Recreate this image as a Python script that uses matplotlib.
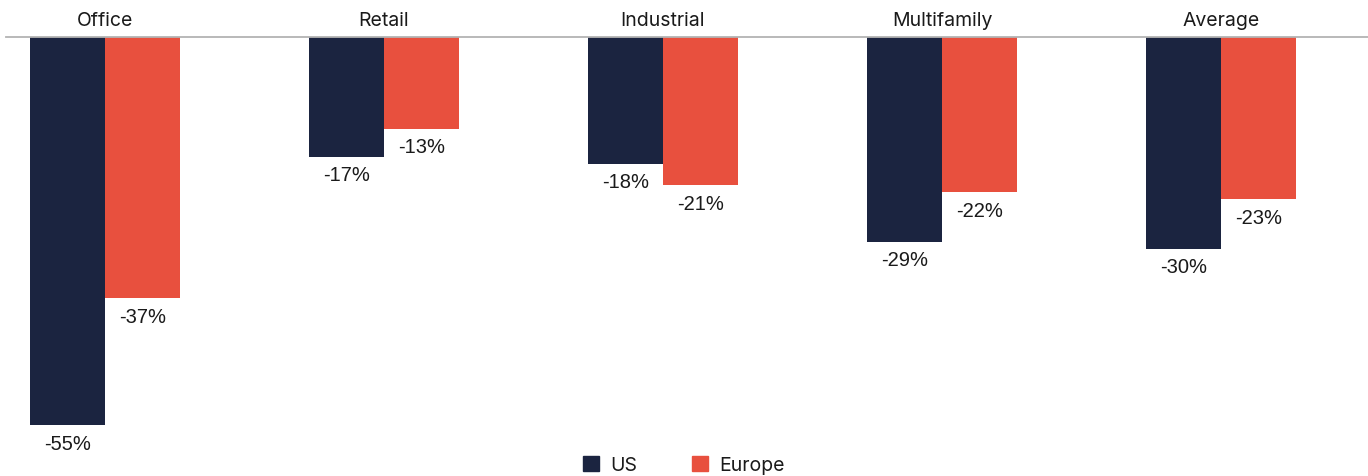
import matplotlib.pyplot as plt
import numpy as np
from matplotlib.patches import Patch

# Data
categories = ["Office", "Retail", "Industrial", "Multifamily", "Average"]
us_values = [-55, -17, -18, -29, -30]
europe_values = [-37, -13, -21, -22, -23]
series_names = ["US", "Europe"]

navy = "#1b2440"
red = "#e8503e"
text_color = "#1a1a1a"

fig = plt.figure(figsize=(13.68, 4.77), dpi=100)
ax = fig.add_axes([0, 0, 1, 1])

# pixel geometry of the reference
px_per_unit = 388 / 55          # vertical pixels per percentage point
group_px = 279                  # distance between groups in pixels
first_px = 105                  # x pixel of first group centre
bar_w = 75 / group_px

X = np.arange(len(categories))
ax.bar(X - bar_w / 2, us_values, width=bar_w, color=navy, zorder=2)
ax.bar(X + bar_w / 2, europe_values, width=bar_w, color=red, zorder=2)

ax.set_xlim(-first_px / group_px, (1368 - first_px) / group_px)
ax.set_ylim(-(477 - 38) / px_per_unit, 38 / px_per_unit)

# baseline
ax.axhline(0, xmin=6 / 1368, xmax=1, color="#b3b3b3", lw=1.3, zorder=3)

# category labels above the baseline
for i, cat in enumerate(categories):
    ax.text(i, 17 / px_per_unit, cat, ha="center", va="center",
            fontsize=14, family="Inter", color=text_color)

# value labels below bars
off = 18 / px_per_unit
for i in range(len(categories)):
    ax.text(i - bar_w / 2, us_values[i] - off, f"{us_values[i]}%",
            ha="center", va="center", fontsize=14.5,
            family="Liberation Sans", color=text_color)
    ax.text(i + bar_w / 2, europe_values[i] - off, f"{europe_values[i]}%",
            ha="center", va="center", fontsize=14.5,
            family="Liberation Sans", color=text_color)

ax.axis("off")

handles = [Patch(color=navy), Patch(color=red)]
fig.legend(handles, series_names, loc="center",
           bbox_to_anchor=(0.5, 1 - 466 / 477), ncol=2, frameon=False,
           prop={"family": "Inter", "size": 14},
           handlelength=0.8, handleheight=0.8, handletextpad=0.6,
           columnspacing=2.8, labelcolor=text_color)

plt.savefig("out.png", dpi=100)
